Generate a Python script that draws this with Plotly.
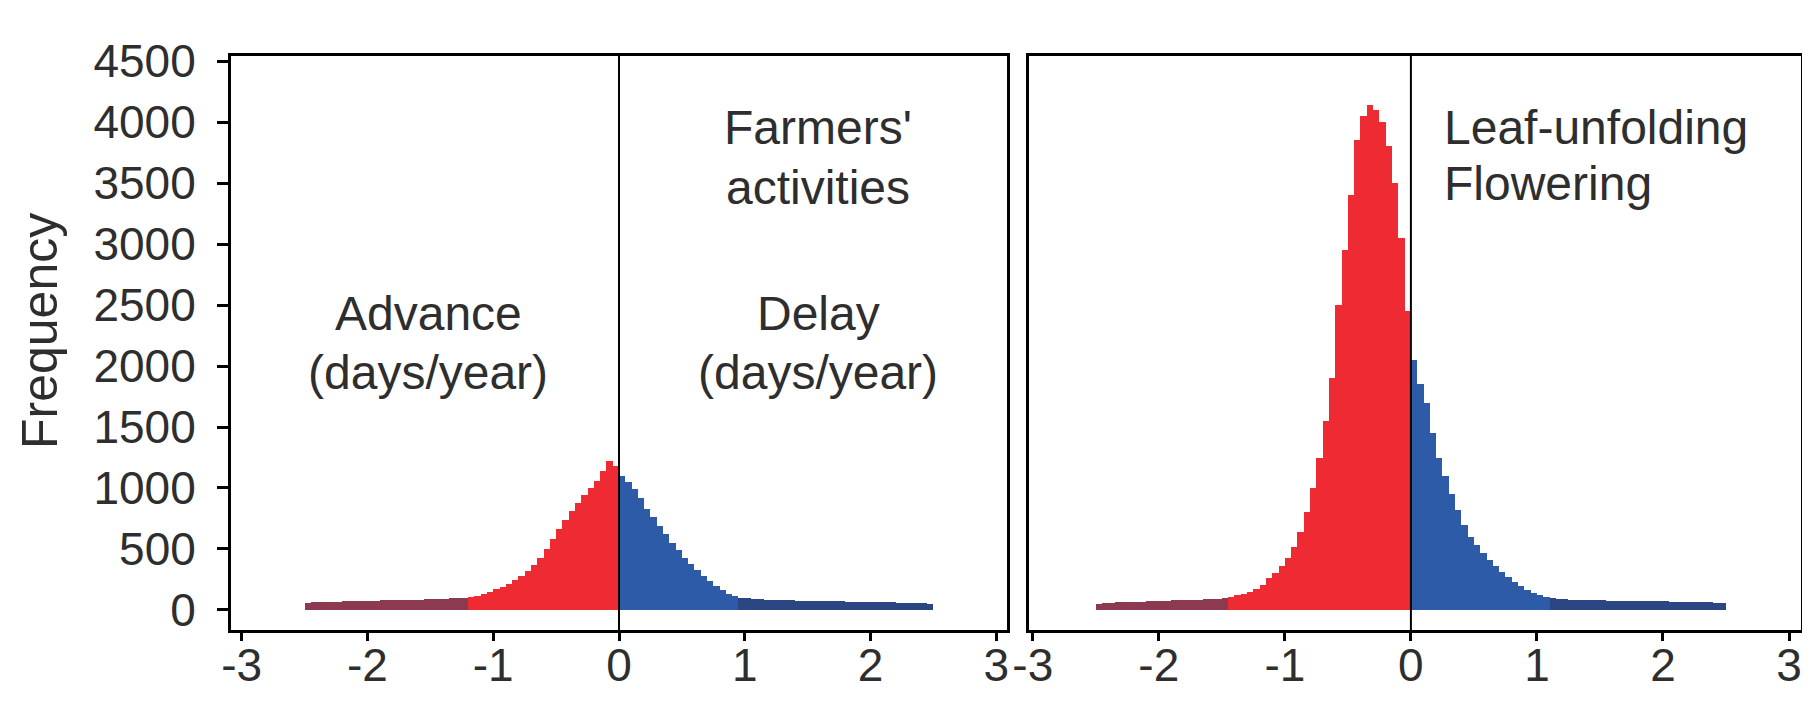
import numpy as np
import plotly.graph_objects as go

# ---------------- data ----------------
BIN_START = -2.5
BIN_WIDTH = 0.05

# Farmers' activities panel (left): frequencies per 0.05-wide bin
farm_advance = [  # -2.5 .. 0 (red)
    55, 62, 64, 66, 66, 68, 70, 70, 72, 74,
    75, 76, 78, 78, 80, 82, 82, 84, 86, 88,
    90, 92, 94, 96, 98, 100, 108, 118, 130, 150,
    170, 190, 215, 245, 280, 320, 370, 430, 500, 580,
    660, 740, 810, 880, 940, 1000, 1060, 1140, 1220, 1180,
]
farm_delay = [  # 0 .. 2.5 (blue)
    1100, 1050, 990, 920, 830, 760, 690, 620, 550, 490,
    430, 380, 330, 280, 240, 200, 165, 135, 115, 100,
    95, 90, 88, 86, 84, 82, 80, 78, 77, 76,
    75, 74, 73, 72, 71, 70, 69, 68, 67, 66,
    65, 64, 63, 62, 61, 60, 58, 56, 54, 48,
]

# Leaf-unfolding / Flowering panel (right)
leaf_advance = [  # -2.5 .. 0 (red)
    50, 56, 60, 62, 64, 66, 67, 68, 70, 72,
    74, 76, 78, 80, 82, 84, 86, 88, 90, 94,
    100, 108, 120, 135, 150, 175, 205, 260, 300, 360,
    430, 520, 640, 800, 1000, 1250, 1550, 1900, 2500, 2950,
    3400, 3850, 4050, 4140, 4100, 4000, 3800, 3500, 3050, 2450,
]
leaf_delay = [  # 0 .. 2.5 (blue)
    2050, 1850, 1700, 1450, 1250, 1100, 950, 820, 700, 600,
    530, 470, 410, 360, 310, 270, 230, 195, 165, 140,
    120, 108, 98, 92, 88, 85, 83, 81, 80, 79,
    78, 77, 76, 75, 74, 73, 72, 72, 71, 70,
    70, 69, 68, 67, 66, 65, 64, 62, 60, 56,
]

x_ticks = [-3, -2, -1, 0, 1, 2, 3]
x_ticktext = ["-3", "-2", "-1", "0", "1", "2", "3"]
y_ticks = [0, 500, 1000, 1500, 2000, 2500, 3000, 3500, 4000, 4500]
y_ticktext = [str(v) for v in y_ticks]

# ---------------- styling ----------------
W, H = 1810, 716
FONT = "Liberation Sans, Arial, Helvetica, sans-serif"
TXT = "#2e2e2e"
RED, RED_TAIL = "#ee2b33", "#8c3a52"
BLUE, BLUE_TAIL = "#2e5ba8", "#2c4583"
TAIL_LIMIT = 101


def centers(start, n):
    return [start + BIN_WIDTH * (i + 0.5) for i in range(n)]


def colors(vals, main, tail):
    return [tail if v < TAIL_LIMIT else main for v in vals]


def px_x(p):
    return p / W


def px_y(p):
    return 1 - p / H


fig = go.Figure()

panels = [
    ("x", "y", farm_advance, farm_delay),
    ("x2", "y2", leaf_advance, leaf_delay),
]
for xa, ya, adv, dly in panels:
    fig.add_trace(go.Bar(
        x=centers(BIN_START, len(adv)), y=adv, width=BIN_WIDTH,
        marker=dict(color=colors(adv, RED, RED_TAIL), line=dict(width=0)),
        xaxis=xa, yaxis=ya, showlegend=False, hoverinfo="x+y",
    ))
    fig.add_trace(go.Bar(
        x=centers(0.0, len(dly)), y=dly, width=BIN_WIDTH,
        marker=dict(color=colors(dly, BLUE, BLUE_TAIL), line=dict(width=0)),
        xaxis=xa, yaxis=ya, showlegend=False, hoverinfo="x+y",
    ))

# empty traces so the label-only axes are drawn
for xa, ya in (("x3", "y"), ("x4", "y2")):
    fig.add_trace(go.Scatter(x=[None], y=[None], xaxis=xa, yaxis=ya,
                             showlegend=False, hoverinfo="skip"))

ydom = [px_y(622), px_y(48)]
YRANGE = [-164, 4541]
XR1 = [-3.085, 3.085]
XR2 = [-3.03, 3.095]
XD1 = [px_x(223), px_x(999)]
XD2 = [px_x(1021), px_x(1793)]
LABEL_POS = px_y(626)

frame = dict(showline=True, linecolor="black", linewidth=3, mirror=True,
             showgrid=False, zeroline=False, automargin=False)
tickfont = dict(family=FONT, size=46, color=TXT)
xticks_only = dict(ticks="outside", tickwidth=2.5, tickcolor="black",
                   ticklen=8, tickvals=x_ticks, showticklabels=False)
xlabels_only = dict(overlaying=None, anchor="free", position=LABEL_POS,
                    showline=False, showgrid=False, zeroline=False,
                    ticks="", tickvals=x_ticks, ticktext=x_ticktext,
                    tickfont=tickfont, automargin=False)

fig.update_layout(
    width=W, height=H,
    margin=dict(l=0, r=0, t=0, b=0),
    paper_bgcolor="white", plot_bgcolor="white",
    bargap=0, barmode="overlay",
    xaxis=dict(domain=XD1, range=XR1, anchor="y", **frame, **xticks_only),
    xaxis2=dict(domain=XD2, range=XR2, anchor="y2", **frame, **xticks_only),
    xaxis3=dict(xlabels_only, overlaying="x", domain=XD1, range=XR1),
    xaxis4=dict(xlabels_only, overlaying="x2", domain=XD2, range=XR2),
    yaxis=dict(domain=ydom, range=YRANGE, tickvals=y_ticks,
               ticktext=y_ticktext, anchor="x", ticks="outside",
               ticklen=11, tickwidth=2.5, tickcolor="black",
               tickfont=tickfont, ticklabelstandoff=12, **frame),
    yaxis2=dict(domain=ydom, range=YRANGE, anchor="x2",
                showticklabels=False, ticks="", **frame),
)

# zero reference lines
for xr, yr in (("x", "y domain"), ("x2", "y2 domain")):
    fig.add_shape(type="line", xref=xr, yref=yr, x0=0, x1=0, y0=0, y1=1,
                  line=dict(color="black", width=2))

# y-axis title
fig.add_annotation(text="Frequency", xref="paper", yref="paper",
                   x=px_x(32), y=px_y(323), textangle=-90, showarrow=False,
                   font=dict(family=FONT, size=50, color=TXT),
                   xanchor="center", yanchor="middle")

labels = [
    ("Farmers'", 810, 120, "center"),
    ("activities", 810, 179, "center"),
    ("Advance", 420, 305, "center"),
    ("(days/year)", 420, 364, "center"),
    ("Delay", 810, 305, "center"),
    ("(days/year)", 810, 364, "center"),
    ("Leaf-unfolding", 1434, 120, "left"),
    ("Flowering", 1434, 176, "left"),
]
for txt, xp, yp, anc in labels:
    fig.add_annotation(text=txt, xref="paper", yref="paper",
                       x=px_x(xp), y=px_y(yp), showarrow=False,
                       xanchor=anc, yanchor="middle",
                       font=dict(family=FONT, size=48, color=TXT))

fig.write_html("out.html")
